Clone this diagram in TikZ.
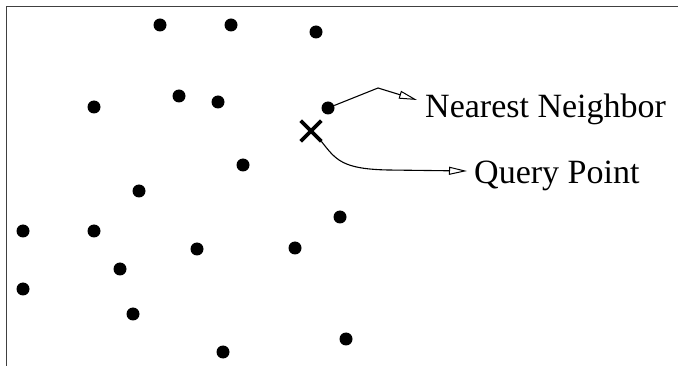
\documentclass[tikz,border=0pt]{standalone}
\usepackage{fontspec}
\setmainfont{Liberation Serif}
\usetikzlibrary{arrows.meta,shapes.misc}
\begin{document}
\begin{tikzpicture}[x=1pt,y=-1pt,
  pt/.style={circle,fill=black,inner sep=0pt,minimum size=13pt},
  conn/.style={line width=1.1pt,-{Triangle[open,length=18pt,width=8pt,line width=1pt]}},
  lbl/.style={font=\fontsize{34}{40}\selectfont,inner sep=0pt,anchor=base west}]
\useasboundingbox (0,0) rectangle (678,366);
\draw[line width=1pt,black!75] (6.5,366) -- (6.5,7) -- (678,7);
\foreach \n/\x/\y in {a/160/25,b/231/25,c/316/32,d/94/107,e/179/96,f/218/102,
  g/243/165,h/139/191,i/23/231,j/94/231,k/197/249,l/295/248,m/340/217,
  o/120/269,p/23/289,r/133/314,s/223/352,t/346/339}
  \node[pt] (\n) at (\x,\y) {};
\node[pt] (nn) at (328,108) {};
\node[cross out,draw,line width=3.6pt,minimum size=17pt,inner sep=0pt] (q) at (311,131) {};
\node[lbl] (tnn) at (425,118) {Nearest Neighbor};
\node[lbl] (tq) at (474,184) {Query Point};
\coordinate (k1) at (378,88);
\coordinate (e1) at (417,100);
\coordinate (e2) at (467,171);
\draw[conn] (nn) -- (k1) -- (e1);
\draw[conn] (q.south east) .. controls (336,160) and (342,169) .. (388,170) -- (e2);
\end{tikzpicture}
\end{document}
